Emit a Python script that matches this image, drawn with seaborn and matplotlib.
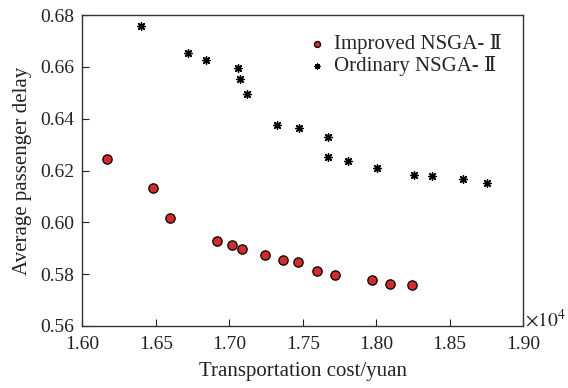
import matplotlib
matplotlib.use('Agg')
import matplotlib.pyplot as plt
import seaborn as sns
import pandas as pd

# Pareto fronts (cost in yuan, delay)
improved_cost = [16167, 16483, 16594, 16917, 17021, 17083, 17240, 17365, 17469,
                 17594, 17719, 17969, 18097, 18242]
improved_delay = [0.6244, 0.6133, 0.6018, 0.5927, 0.5914, 0.5898, 0.5873, 0.5856,
                  0.5846, 0.5812, 0.5797, 0.5778, 0.5762, 0.5760]

ordinary_cost = [16399, 16717, 16844, 17058, 17076, 17119, 17324, 17476, 17669,
                 17672, 17808, 18003, 18256, 18381, 18590, 18756]
ordinary_delay = [0.6759, 0.6652, 0.6625, 0.6597, 0.6554, 0.6496, 0.6376, 0.6363,
                  0.6331, 0.6253, 0.6238, 0.6208, 0.6183, 0.6180, 0.6167, 0.6151]

x_ticks = [1.60, 1.65, 1.70, 1.75, 1.80, 1.85, 1.90]
y_ticks = [0.56, 0.58, 0.60, 0.62, 0.64, 0.66, 0.68]

sns.set_style('white')
plt.rcParams['font.family'] = ['Liberation Serif', 'DejaVu Serif']
plt.rcParams['mathtext.fontset'] = 'stix'

df_imp = pd.DataFrame({'cost': [c / 1e4 for c in improved_cost], 'delay': improved_delay})
df_ord = pd.DataFrame({'cost': [c / 1e4 for c in ordinary_cost], 'delay': ordinary_delay})

fig = plt.figure(figsize=(5.68, 3.88), dpi=100)
ax = fig.add_axes([0.1452, 0.1598, 0.7756, 0.8015])

sns.scatterplot(data=df_imp, x='cost', y='delay', ax=ax, color='#d42a2a',
                edgecolor='black', linewidth=0.9, s=45, marker='o',
                label='Improved NSGA- Ⅱ', zorder=3)
sns.scatterplot(data=df_ord, x='cost', y='delay', ax=ax, color='black',
                marker=(8, 2, 0), s=30, linewidth=1.0,
                label='Ordinary NSGA- Ⅱ', zorder=3)

ax.set_xlim(1.60, 1.90)
ax.set_ylim(0.56, 0.68)
ax.set_xticks(x_ticks)
ax.set_yticks(y_ticks)
ax.set_xticklabels([f'{t:.2f}' for t in x_ticks])
ax.set_yticklabels([f'{t:.2f}' for t in y_ticks])
ax.tick_params(direction='in', length=5, width=0.8, labelsize=14,
               bottom=True, left=True, top=False, right=False, colors='#222222',
               labelcolor='#222222')
ax.tick_params(axis='x', pad=7)
ax.tick_params(axis='y', pad=6)
for sp in ax.spines.values():
    sp.set_color('#333333')
    sp.set_linewidth(1.0)

ax.set_xlabel('Transportation cost/yuan', fontsize=15, color='#222222', labelpad=7)
ax.set_ylabel('Average passenger delay', fontsize=15, color='#222222', labelpad=6)

ax.text(1.005, 0.02, r'$\times10^4$', transform=ax.transAxes, fontsize=14,
        color='#222222', ha='left', va='center')

leg = ax.legend(loc='upper right', frameon=False, fontsize=15, handletextpad=0.3,
                handlelength=1.0, borderaxespad=0.3, labelspacing=0.1,
                markerscale=0.65, bbox_to_anchor=(0.985, 0.985))

fig.savefig('out.png', dpi=100)
